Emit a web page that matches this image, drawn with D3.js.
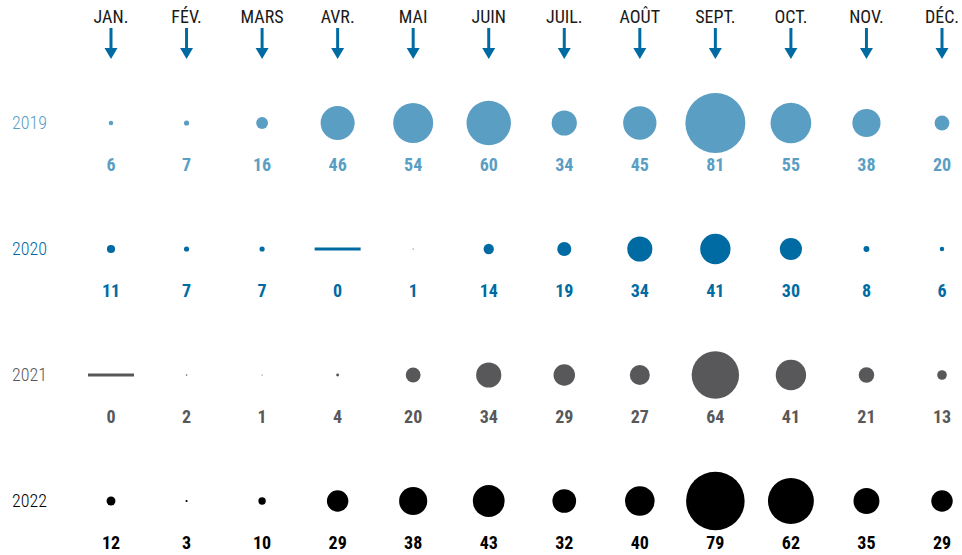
<!DOCTYPE html>
<html>
<head>
<meta charset="utf-8">
<script src="https://cdn.jsdelivr.net/npm/d3@7"></script>
<style>
  body { margin: 0; background: #fff; }
  svg { display: block; font-family: "Liberation Sans Narrow", "Roboto Condensed", "Arial Narrow", sans-serif; font-stretch: condensed; }
</style>
</head>
<body>
<div id="chart"></div>
<script>
// months across the top
const months = ['JAN.', 'FÉV.', 'MARS', 'AVR.', 'MAI', 'JUIN', 'JUIL.', 'AOÛT', 'SEPT.', 'OCT.', 'NOV.', 'DÉC.'];
const years = ['2019', '2020', '2021', '2022'];

// monthly counts per year
const values2019 = [6, 7, 16, 46, 54, 60, 34, 45, 81, 55, 38, 20];
const values2020 = [11, 7, 7, 0, 1, 14, 19, 34, 41, 30, 8, 6];
const values2021 = [0, 2, 1, 4, 20, 34, 29, 27, 64, 41, 21, 13];
const values2022 = [12, 3, 10, 29, 38, 43, 32, 40, 79, 62, 35, 29];

const yearColors = ['#5b9ec3', '#006ba3', '#58585a', '#000000'];

const width = 962;
const height = 555;

const rows = [values2019, values2020, values2021, values2022].map((vals, i) => ({
    year: years[i],
    color: yearColors[i],
    values: vals.map((v, j) => ({ month: months[j], value: v }))
}));

const svg = d3.select('#chart')
    .append('svg')
    .attr('width', width)
    .attr('height', height);

const x = d3.scalePoint().domain(months).range([111, 942]);
const y = d3.scalePoint().domain(years).range([123, 501]);
const r = d3.scaleLinear()
    .domain([0, d3.max(rows, d => d3.max(d.values, v => v.value))])
    .range([0, 30]);

// month header + arrows
const header = svg.append('g').attr('class', 'header');

header.selectAll('text')
    .data(months)
    .join('text')
    .attr('x', d => x(d))
    .attr('y', 23)
    .attr('text-anchor', 'middle')
    .style('font-size', '18px')
    .attr('fill', '#1a1a1a')
    .text(d => d);

const arrows = header.selectAll('g.arrow')
    .data(months)
    .join('g')
    .attr('class', 'arrow')
    .attr('transform', d => `translate(${x(d)},0)`);

arrows.append('line')
    .attr('x1', 0).attr('x2', 0)
    .attr('y1', 28).attr('y2', 49)
    .attr('stroke', '#006ba3')
    .attr('stroke-width', 3);

arrows.append('path')
    .attr('d', 'M-6.5,48 L6.5,48 L0,59 Z')
    .attr('fill', '#006ba3');

// one row per year
const rowG = svg.selectAll('g.row')
    .data(rows)
    .join('g')
    .attr('class', 'row')
    .attr('transform', d => `translate(0,${y(d.year)})`);

rowG.append('text')
    .attr('x', 12)
    .attr('y', 0)
    .attr('dy', '0.35em')
    .style('font-size', '18px')
    .style('font-weight', 300)
    .attr('fill', d => d.color)
    .text(d => d.year);

const cells = rowG.selectAll('g.cell')
    .data(d => d.values.map(v => ({ ...v, color: d.color })))
    .join('g')
    .attr('class', 'cell')
    .attr('transform', d => `translate(${x(d.month)},0)`);

// zero months get a flat bar instead of a dot
cells.filter(d => d.value === 0)
    .append('line')
    .attr('x1', -23).attr('x2', 23)
    .attr('y1', 0).attr('y2', 0)
    .attr('stroke', d => d.color)
    .attr('stroke-width', 3);

cells.filter(d => d.value > 0)
    .append('circle')
    .attr('r', d => Math.max(r(d.value), 0.6))
    .attr('fill', d => d.color);

cells.append('text')
    .attr('y', 42)
    .attr('dy', '0.35em')
    .attr('text-anchor', 'middle')
    .style('font-size', '18px')
    .style('font-weight', 'bold')
    .attr('fill', d => d.color)
    .text(d => d.value);
</script>
</body>
</html>
